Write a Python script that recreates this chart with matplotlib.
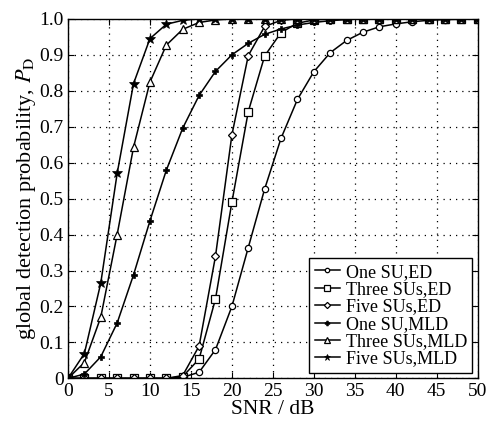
import matplotlib
matplotlib.use("Agg")
import matplotlib.pyplot as plt

plt.rcParams['font.family'] = ['Liberation Serif', 'DejaVu Serif']
plt.rcParams['mathtext.fontset'] = 'stix'

# SNR in dB (one point every 2 dB)
snr = [0, 2, 4, 6, 8, 10, 12, 14, 16, 18, 20, 22, 24, 26, 28, 30,
       32, 34, 36, 38, 40, 42, 44, 46, 48, 50]

# detection probabilities
one_su_ed = [0, 0, 0, 0, 0, 0, 0, 0.003, 0.017, 0.08, 0.20, 0.364, 0.527, 0.668,
             0.776, 0.853, 0.906, 0.940, 0.963, 0.978, 0.986, 0.992, 0.996, 0.998, 0.999, 1.0]
three_su_ed = [0, 0, 0, 0, 0, 0, 0, 0.005, 0.054, 0.221, 0.49, 0.742, 0.897, 0.962,
               0.988, 0.997, 1, 1, 1, 1, 1, 1, 1, 1, 1, 1]
five_su_ed = [0, 0, 0, 0, 0, 0, 0, 0.008, 0.09, 0.34, 0.677, 0.898, 0.979, 0.996,
              1, 1, 1, 1, 1, 1, 1, 1, 1, 1, 1, 1]
one_su_mld = [0, 0.012, 0.06, 0.154, 0.288, 0.438, 0.579, 0.696, 0.787, 0.854, 0.90,
              0.932, 0.957, 0.972, 0.983, 0.99, 0.995, 0.998, 1, 1, 1, 1, 1, 1, 1, 1]
three_su_mld = [0, 0.044, 0.17, 0.40, 0.643, 0.824, 0.927, 0.971, 0.99, 0.997,
                1, 1, 1, 1, 1, 1, 1, 1, 1, 1, 1, 1, 1, 1, 1, 1]
five_su_mld = [0, 0.069, 0.265, 0.57, 0.82, 0.945, 0.985, 0.996,
               1, 1, 1, 1, 1, 1, 1, 1, 1, 1, 1, 1, 1, 1, 1, 1, 1, 1]

fig = plt.figure(figsize=(4.89, 4.29), dpi=100)
ax = fig.add_axes([0.139, 0.118, 0.838, 0.838])

lw = 1.1
ax.plot(snr, one_su_ed, '-o', color='k', lw=lw, ms=4.5, mfc='white', mew=0.9, label='One SU,ED')
ax.plot(snr, three_su_ed, '-s', color='k', lw=lw, ms=5.5, mfc='white', mew=0.9, label='Three SUs,ED')
ax.plot(snr, five_su_ed, '-D', color='k', lw=lw, ms=4.5, mfc='white', mew=0.9, label='Five SUs,ED')
ax.plot(snr, one_su_mld, '-P', color='k', lw=lw, ms=5, mfc='k', mew=0.5, label='One SU,MLD')
ax.plot(snr, three_su_mld, '-^', color='k', lw=lw, ms=6, mfc='white', mew=0.9, label='Three SUs,MLD')
ax.plot(snr, five_su_mld, '-*', color='k', lw=lw, ms=7, mfc='k', mew=0.5, label='Five SUs,MLD')

ax.set_xlim(0, 50)
ax.set_ylim(0, 1.0)
ax.set_xticks(range(0, 51, 5))
ax.set_yticks([i / 10 for i in range(11)])
ax.set_yticklabels(['0'] + ['%.1f' % (i / 10) for i in range(1, 11)])
ax.tick_params(direction='in', top=True, right=True, labelsize=14, length=4, pad=3)
ax.grid(True, color='k', linestyle=(0, (1, 4)), linewidth=0.9)
for s in ax.spines.values():
    s.set_linewidth(1.0)

ax.set_xlabel('SNR / dB', fontsize=15.5, labelpad=0)
ax.set_ylabel(r'global detection probability, $P_\mathrm{D}$', fontsize=16, labelpad=1)

leg = ax.legend(loc='lower right', fontsize=13, handlelength=1.4, handletextpad=0.3,
                labelspacing=0.02, borderpad=0.3, borderaxespad=0.3, fancybox=False,
                framealpha=1, edgecolor='k', markerscale=0.7)
leg.get_frame().set_linewidth(1.0)

fig.savefig('out.png', dpi=100)
